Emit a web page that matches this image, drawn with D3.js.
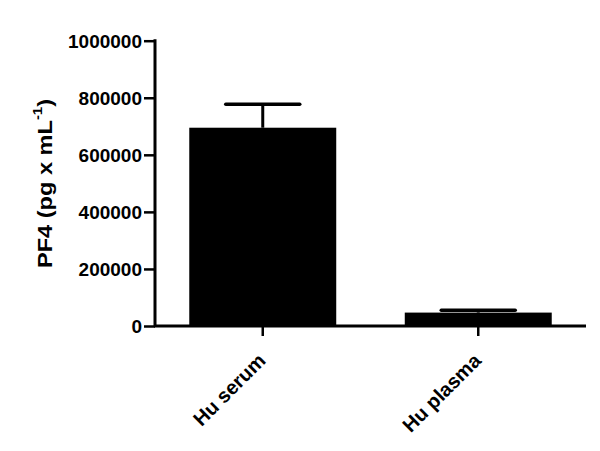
<!DOCTYPE html>
<html><head><meta charset="utf-8">
<script src="https://cdn.jsdelivr.net/npm/d3@7/dist/d3.min.js"></script>
<style>body{margin:0;background:#fff}svg{display:block}text{font-family:"Liberation Sans",Arial,sans-serif;font-weight:bold}</style>
</head><body><svg width="600" height="451"></svg>
<script>
const categories = ["Hu serum", "Hu plasma"];
const means = [695000, 47000];
const errors = [82000, 8000];
const yTicks = [0, 200000, 400000, 600000, 800000, 1000000];

const svg = d3.select("svg");
const x = d3.scaleBand().domain(categories).range([155, 586]).paddingInner(0.318).paddingOuter(0.159);
const y = d3.scaleLinear().domain([0, 1000000]).range([326, 40.7]);

// bars
svg.selectAll("rect.bar").data(categories).enter().append("rect")
  .attr("x", d => x(d)).attr("width", x.bandwidth())
  .attr("y", (d, i) => y(means[i])).attr("height", (d, i) => y(0) - y(means[i]))
  .attr("fill", "#000");
// error bars
const capW = 37;
categories.forEach((c, i) => {
  const cx = x(c) + x.bandwidth() / 2;
  svg.append("line").attr("x1", cx).attr("x2", cx).attr("y1", y(means[i])).attr("y2", y(means[i] + errors[i]))
    .attr("stroke", "#000").attr("stroke-width", 3);
  svg.append("line").attr("x1", cx - capW).attr("x2", cx + capW).attr("y1", y(means[i] + errors[i])).attr("y2", y(means[i] + errors[i]))
    .attr("stroke", "#000").attr("stroke-width", 3.5).attr("stroke-linecap", "round");
});

// y axis
const yAxis = svg.append("g").attr("transform", "translate(155,0)")
  .call(d3.axisLeft(y).tickValues(yTicks).tickFormat(d3.format("d")).tickSize(11).tickPadding(2));
yAxis.select(".domain").attr("stroke-width", 3).attr("d", `M0,${y(1000000)-1.5}V${y(0)}`);
yAxis.selectAll(".tick line").attr("stroke-width", 2.5);
yAxis.selectAll(".tick text").attr("font-size", 19).attr("fill", "#000").attr("dy", "0.36em");

// x axis
const xAxis = svg.append("g").attr("transform", "translate(0,326)")
  .call(d3.axisBottom(x).tickSize(10).tickPadding(0).tickSizeOuter(0));
xAxis.select(".domain").attr("stroke-width", 3).attr("d", "M154,0H586");
xAxis.selectAll(".tick line").attr("stroke-width", 2.5);
xAxis.selectAll(".tick text").attr("font-size", 20).attr("fill", "#000")
  .attr("text-anchor", "end").attr("dy", null).attr("y", 0)
  .attr("transform", "translate(4,36) rotate(-45)");

// y title
const t = svg.append("text").attr("transform", "translate(51.5,183.5) rotate(-90) scale(1.15,1)").attr("text-anchor", "middle").attr("font-size", 20.5);
t.append("tspan").text("PF4 (pg x mL");
t.append("tspan").text("-1").attr("font-size", 13).attr("dy", -10);
t.append("tspan").text(")").attr("dy", 10);
</script></body></html>
